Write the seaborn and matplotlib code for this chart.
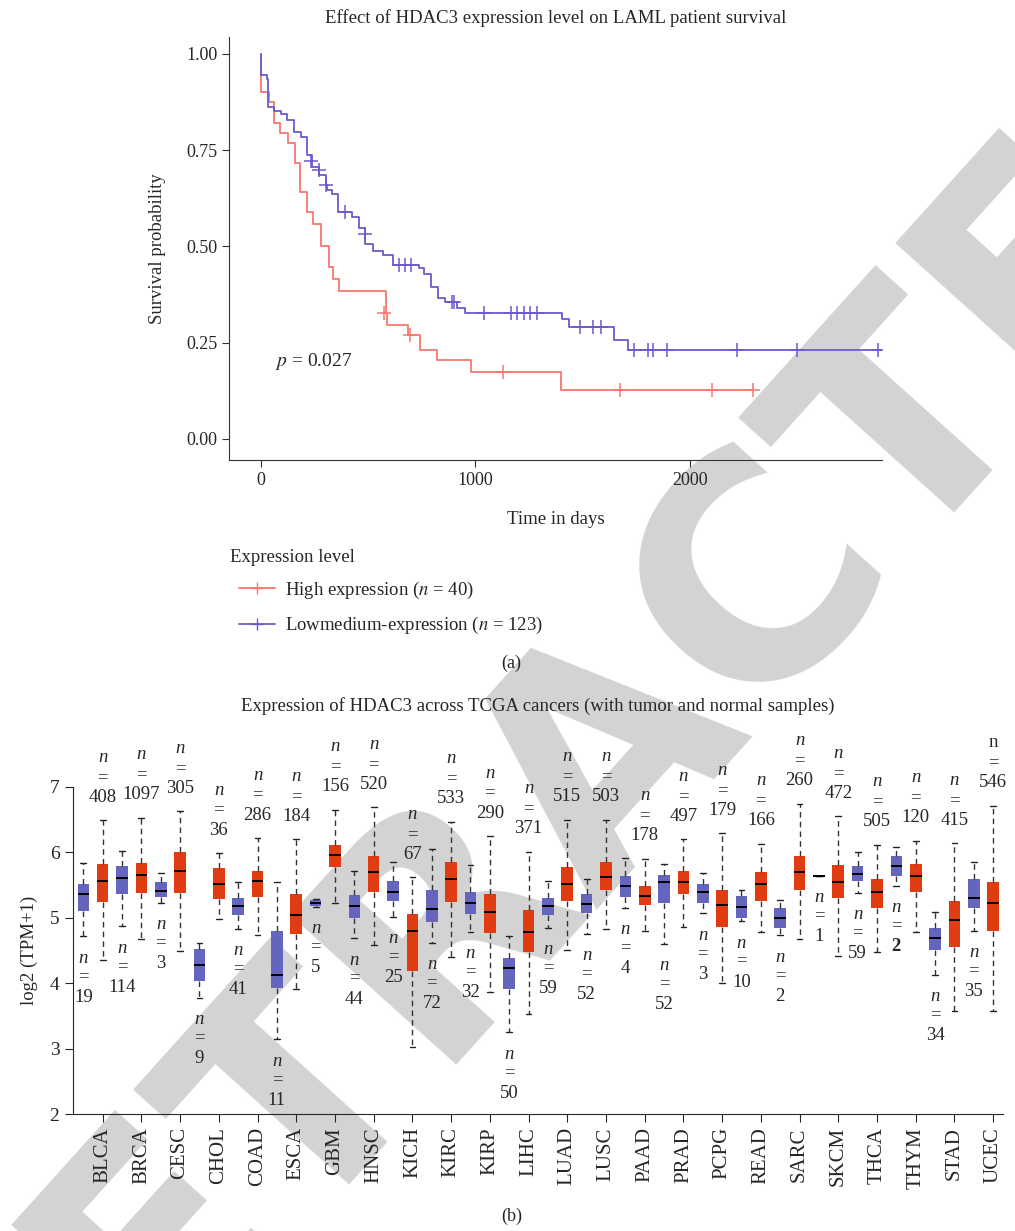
import numpy as np
import pandas as pd
import matplotlib
matplotlib.use("Agg")
import matplotlib.pyplot as plt
from matplotlib.lines import Line2D
import seaborn as sns

# ---- Kaplan-Meier curves ----
high_t = [0, 1, 37, 62, 89, 128, 159, 184, 213, 244, 280, 315, 335, 364, 583, 587,
          684, 740, 821, 978, 1400, 2293]
high_s = [1.0, 0.90, 0.874, 0.820, 0.794, 0.768, 0.716, 0.640, 0.588, 0.559, 0.500,
          0.447, 0.416, 0.383, 0.328, 0.295, 0.269, 0.232, 0.206, 0.173, 0.126, 0.126]
high_cens_t = [575, 696, 1130, 1674, 2103, 2293]
high_cens_s = [0.328, 0.269, 0.173, 0.126, 0.126, 0.126]

low_t = [0, 1, 29, 34, 62, 92, 120, 154, 187, 216, 240, 271, 302, 306, 333, 361, 424,
         455, 486, 522, 571, 614, 735, 762, 793, 824, 860, 914, 949, 1402, 1436, 1646,
         1713, 2893]
low_s = [1.0, 0.946, 0.935, 0.861, 0.852, 0.844, 0.829, 0.798, 0.785, 0.737, 0.705,
         0.685, 0.660, 0.647, 0.636, 0.588, 0.575, 0.547, 0.507, 0.487, 0.477, 0.452,
         0.445, 0.429, 0.394, 0.367, 0.356, 0.341, 0.328, 0.312, 0.290, 0.258, 0.232,
         0.232]
low_cens_t = [234, 272, 304, 393, 486, 642, 673, 701, 891, 900, 1042, 1164, 1195, 1226,
              1252, 1285, 1487, 1550, 1584, 1737, 1802, 1826, 1891, 2220, 2499, 2874]
low_cens_s = [0.721, 0.698, 0.660, 0.588, 0.533, 0.452, 0.452, 0.452, 0.356, 0.356,
              0.328, 0.328, 0.328, 0.328, 0.328, 0.328, 0.290, 0.290, 0.290, 0.232,
              0.232, 0.232, 0.232, 0.232, 0.232, 0.232]

# ---- TCGA boxplots: [lower whisker, q1, median, q3, upper whisker] ----
cancers = ["BLCA", "BRCA", "CESC", "CHOL", "COAD", "ESCA", "GBM", "HNSC", "KICH",
           "KIRC", "KIRP", "LIHC", "LUAD", "LUSC", "PAAD", "PRAD", "PCPG", "READ",
           "SARC", "SKCM", "THCA", "THYM", "STAD", "UCEC"]
normal_stats = [
    [4.72, 5.10, 5.36, 5.51, 5.84], [4.87, 5.37, 5.61, 5.79, 6.02],
    [5.23, 5.32, 5.41, 5.54, 5.69], [3.78, 4.04, 4.28, 4.52, 4.62],
    [4.83, 5.05, 5.18, 5.31, 5.54], [3.14, 3.93, 4.12, 4.80, 5.54],
    [5.17, 5.18, 5.23, 5.27, 5.28], [4.69, 5.00, 5.18, 5.35, 5.71],
    [5.02, 5.25, 5.40, 5.56, 5.85], [4.62, 4.94, 5.13, 5.42, 6.05],
    [4.79, 5.06, 5.22, 5.40, 5.80], [3.25, 3.91, 4.24, 4.38, 4.72],
    [4.85, 5.04, 5.18, 5.30, 5.56], [4.76, 5.07, 5.21, 5.36, 5.59],
    [5.15, 5.32, 5.49, 5.64, 5.92], [4.60, 5.22, 5.54, 5.65, 5.82],
    [5.07, 5.22, 5.40, 5.52, 5.68], [4.95, 4.99, 5.17, 5.34, 5.43],
    [4.73, 4.84, 4.99, 5.15, 5.27], [5.64, 5.64, 5.64, 5.64, 5.64],
    [5.38, 5.57, 5.67, 5.79, 6.01], [5.49, 5.64, 5.79, 5.94, 6.08],
    [4.13, 4.51, 4.69, 4.84, 5.09], [4.80, 5.15, 5.31, 5.59, 5.86],
]
tumor_stats = [
    [4.36, 5.24, 5.57, 5.82, 6.49], [4.67, 5.38, 5.65, 5.84, 6.53],
    [4.50, 5.38, 5.72, 6.00, 6.63], [4.98, 5.29, 5.52, 5.76, 5.99],
    [4.74, 5.32, 5.56, 5.72, 6.22], [3.91, 4.76, 5.04, 5.36, 6.20],
    [5.22, 5.77, 5.96, 6.12, 6.65], [4.58, 5.40, 5.70, 5.95, 6.69],
    [3.02, 4.19, 4.80, 5.06, 5.62], [4.40, 5.24, 5.59, 5.85, 6.47],
    [3.87, 4.77, 5.09, 5.36, 6.25], [3.53, 4.48, 4.78, 5.12, 6.01],
    [4.51, 5.26, 5.51, 5.78, 6.50], [4.83, 5.42, 5.62, 5.85, 6.50],
    [4.80, 5.20, 5.34, 5.48, 5.90], [4.86, 5.37, 5.54, 5.71, 6.20],
    [4.01, 4.86, 5.19, 5.43, 6.29], [4.78, 5.26, 5.51, 5.70, 6.13],
    [4.68, 5.43, 5.70, 5.95, 6.74], [4.42, 5.31, 5.55, 5.81, 6.55],
    [4.48, 5.15, 5.39, 5.59, 6.12], [4.78, 5.40, 5.64, 5.83, 6.18],
    [3.58, 4.56, 4.96, 5.26, 6.14], [3.58, 4.80, 5.23, 5.55, 6.71],
]
normal_n = [19, 114, 3, 9, 41, 11, 5, 44, 25, 72, 32, 50, 59, 52, 4, 52, 3, 10, 2, 1,
            59, 2, 34, 35]
tumor_n = [408, 1097, 305, 36, 286, 184, 156, 520, 67, 533, 290, 371, 515, 503, 178,
           497, 179, 166, 260, 472, 505, 120, 415, 546]

# long table: each box is given by its five summary values
rows = []
for i, c in enumerate(cancers):
    for v in normal_stats[i]:
        rows.append({"slot": 2 * i, "type": "Normal", "value": v})
    for v in tumor_stats[i]:
        rows.append({"slot": 2 * i + 1, "type": "Tumor", "value": v})
df = pd.DataFrame(rows)

sns.set_style("ticks")
plt.rcParams["font.family"] = ["Liberation Serif", "DejaVu Serif"]
plt.rcParams["mathtext.fontset"] = "stix"
plt.rcParams["axes.facecolor"] = "none"

fig = plt.figure(figsize=(10.15, 12.31), dpi=100)

# watermark behind everything
fig.text(0.597, 0.397, "RETRACTED", rotation=48, fontsize=220, color="#d3d3d3",
         ha="center", va="center", fontweight="bold", family="DejaVu Sans", zorder=-5)

# ---------------- panel (a) ----------------
ax1 = fig.add_axes([0.2256, 0.6263, 0.6434, 0.3437])
red_km = "#F8766D"
blue_km = "#6A5ACD"
km_high = pd.DataFrame({"t": high_t, "s": high_s})
km_low = pd.DataFrame({"t": low_t, "s": low_s})
sns.lineplot(data=km_high, x="t", y="s", ax=ax1, color=red_km, drawstyle="steps-post",
             estimator=None, sort=False, linewidth=1.3)
sns.lineplot(data=km_low, x="t", y="s", ax=ax1, color=blue_km, drawstyle="steps-post",
             estimator=None, sort=False, linewidth=1.3)
sns.scatterplot(x=high_cens_t, y=high_cens_s, ax=ax1, marker="+", color=red_km, s=90,
                linewidth=1.1)
sns.scatterplot(x=low_cens_t, y=low_cens_s, ax=ax1, marker="+", color=blue_km, s=90,
                linewidth=1.1)
ax1.set_xlim(-149, 2895)
ax1.set_ylim(-0.055, 1.044)
ax1.set_xticks([0, 1000, 2000])
ax1.set_yticks([0, 0.25, 0.5, 0.75, 1.0])
ax1.set_yticklabels(["0.00", "0.25", "0.50", "0.75", "1.00"])
ax1.tick_params(labelsize=13, length=5, color="#333333")
ax1.set_xlabel("Time in days", fontsize=13.5, labelpad=16)
ax1.set_ylabel("Survival probability", fontsize=13.5, labelpad=14)
ax1.set_title("Effect of HDAC3 expression level on LAML patient survival",
              fontsize=13.5, pad=10)
sns.despine(ax=ax1)
for sp in ax1.spines.values():
    sp.set_color("#333333")
ax1.text(65, 0.20, "$p$ = 0.027", fontsize=14, va="center", ha="left")

fig.text(230 / 1015, 1 - 557 / 1231, "Expression level", fontsize=13.5,
         ha="left", va="center")
handles = [Line2D([0], [0], color=red_km, marker="+", markersize=9, lw=1.3),
           Line2D([0], [0], color=blue_km, marker="+", markersize=9, lw=1.3)]
leg = fig.legend(handles, ["High expression ($n$ = 40)",
                           "Lowmedium-expression ($n$ = 123)"],
                 loc="upper left", bbox_to_anchor=(239 / 1015, 1 - 580 / 1231),
                 frameon=False, fontsize=13.5, borderpad=0, borderaxespad=0,
                 handlelength=1.9, handletextpad=0.55, labelspacing=0.75)
fig.text(0.504, 0.461, "(a)", fontsize=13, ha="center", va="center")

# ---------------- panel (b) ----------------
ax2 = fig.add_axes([0.0716, 0.095, 0.9164, 0.2657])
sns.boxplot(data=df, x="slot", y="value", hue="type", order=list(range(48)),
            palette={"Normal": "#6466BE", "Tumor": "#E03C12"}, saturation=1,
            dodge=False, width=0.6, whis=(0, 100), fliersize=0, legend=False, ax=ax2,
            boxprops=dict(edgecolor="none"),
            medianprops=dict(color="black", linewidth=1.4),
            whiskerprops=dict(color="#333333", linestyle=(0, (4, 3)), linewidth=1),
            capprops=dict(color="#222222", linewidth=1))
ax2.set_xlim(-0.55, 47.5)
ax2.set_ylim(2, 7)
ax2.set_yticks([2, 3, 4, 5, 6, 7])
ax2.set_xticks([2 * i + 1 for i in range(len(cancers))])
ax2.set_xticklabels(cancers, rotation=90, fontsize=15)
ax2.tick_params(axis="y", labelsize=14, length=6)
ax2.tick_params(axis="x", length=6)
ax2.set_xlabel("")
ax2.set_ylabel("log2 (TPM+1)", fontsize=13.5, labelpad=8)
ax2.set_title("Expression of HDAC3 across TCGA cancers (with tumor and normal samples)",
              fontsize=13.5, pad=55)
sns.despine(ax=ax2)

# n labels
for i in range(len(cancers)):
    xt = 2 * i + 1
    top = tumor_stats[i][4]
    nstyle = "normal" if cancers[i] == "UCEC" else "italic"
    for txt, off, st in [(str(tumor_n[i]), 23, "normal"), ("=", 43, "normal"),
                         ("n", 63, nstyle)]:
        ax2.annotate(txt, xy=(xt, top), xytext=(0, off * 0.72), textcoords="offset points",
                     ha="center", va="center", fontsize=13.5, style=st,
                     annotation_clip=False)
    xn = 2 * i
    bot = normal_stats[i][0]
    wt = "bold" if cancers[i] == "THYM" else "normal"
    for txt, off, st, w in [("n", -22, "italic", "normal"), ("=", -40, "normal", "normal"),
                            (str(normal_n[i]), -61, "normal", wt)]:
        ax2.annotate(txt, xy=(xn, bot), xytext=(0, off * 0.72), textcoords="offset points",
                     ha="center", va="center", fontsize=13.5, style=st, fontweight=w,
                     annotation_clip=False)

fig.text(0.504, 0.0115, "(b)", fontsize=13, ha="center", va="center")

fig.savefig("out.png", dpi=100)
